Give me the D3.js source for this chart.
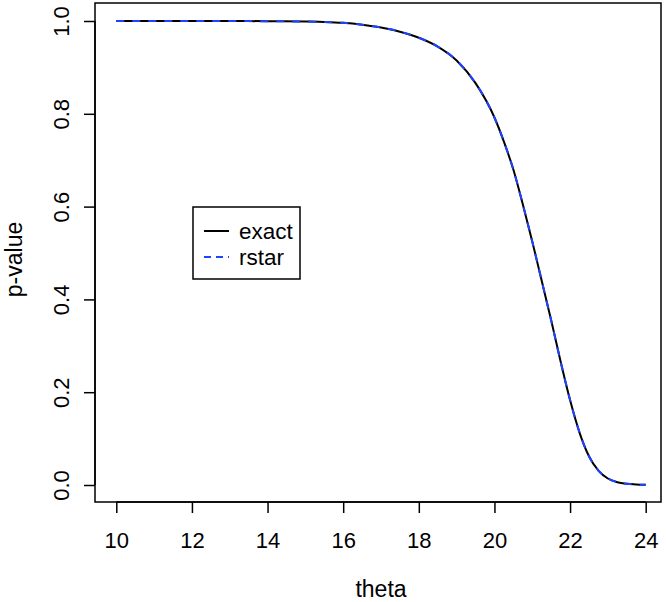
<!DOCTYPE html>
<html><head><meta charset="utf-8">
<script src="https://cdn.jsdelivr.net/npm/d3@7"></script>
<style>body{margin:0;background:#fff}svg{display:block}text{font-family:"Liberation Sans",Arial,Helvetica,sans-serif;fill:#000}</style>
</head><body>
<script>
const theta = [10,11,12,13,14,15,15.5,16,16.5,17,17.5,18,18.5,19,19.5,20,20.25,20.5,20.75,21,21.25,21.5,21.75,22,22.25,22.5,22.75,23,23.25,23.5,23.75,24];
const exact = [1.000,1.000,1.000,0.9999,0.9996,0.9988,0.998,0.996,0.992,0.986,0.977,0.964,0.945,0.915,0.866,0.792,0.740,0.680,0.605,0.525,0.440,0.355,0.266,0.183,0.113,0.062,0.031,0.014,0.006,0.0025,0.001,0.0005];
const rstar = [1.000,1.000,1.000,0.9999,0.9996,0.9988,0.998,0.996,0.992,0.986,0.977,0.964,0.945,0.915,0.866,0.792,0.740,0.680,0.605,0.525,0.440,0.355,0.266,0.183,0.113,0.062,0.031,0.014,0.006,0.0025,0.001,0.0005];
const xTicks = [10,12,14,16,18,20,22,24];
const yTicks = [0,0.2,0.4,0.6,0.8,1.0];
const seriesNames = ["exact","rstar"];

const W=666,H=602;
const box={l:95,r:661,t:3,b:502};
const x=d3.scaleLinear().domain([10,24]).range([116.3,645.7]);
const y=d3.scaleLinear().domain([0,1]).range([485,21]);
const svg=d3.select("body").append("svg").attr("width",W).attr("height",H);

const line=d3.line().x((d,i)=>x(theta[i])).y(d=>y(d)).curve(d3.curveMonotoneX);
svg.append("path").attr("d",line(exact)).attr("fill","none").attr("stroke","#000").attr("stroke-width",2);
svg.append("path").attr("d",line(rstar)).attr("fill","none").attr("stroke","#1f44ff").attr("stroke-width",2).attr("stroke-dasharray","8,8");

svg.append("rect").attr("x",box.l).attr("y",box.t).attr("width",box.r-box.l).attr("height",box.b-box.t)
  .attr("fill","none").attr("stroke","#000").attr("stroke-width",1.5);

const FONT="Liberation Sans, Arial, sans-serif";
const xa=svg.append("g").attr("transform",`translate(0,${box.b})`)
  .call(d3.axisBottom(x).tickValues(xTicks).tickSize(11).tickFormat(d3.format("d")));
xa.select(".domain").attr("d",`M${x(10)},0H${x(24)}`).attr("stroke-width",1.5);
xa.selectAll(".tick line").attr("stroke-width",1.5);
xa.selectAll("text").attr("font-size",22).attr("font-family",FONT).attr("y",46).attr("dy",null);

const ya=svg.append("g").attr("transform",`translate(${box.l},0)`)
  .call(d3.axisLeft(y).tickValues(yTicks).tickSize(11).tickFormat(d3.format(".1f")));
ya.select(".domain").attr("d",`M0,${y(0)}V${y(1)}`).attr("stroke-width",1.5);
ya.selectAll(".tick line").attr("stroke-width",1.5);
ya.selectAll(".tick text").attr("x",null).attr("dy",null).attr("text-anchor","middle")
  .attr("font-size",22).attr("font-family",FONT)
  .attr("transform","translate(-26,0) rotate(-90)");

svg.append("text").attr("x",(box.l+box.r)/2+3).attr("y",597).attr("text-anchor","middle").attr("font-size",23).text("theta");
svg.append("text").attr("transform",`translate(22,${(box.t+box.b)/2+7}) rotate(-90)`).attr("text-anchor","middle").attr("font-size",23).text("p-value");

const lg=svg.append("g");
lg.append("rect").attr("x",193).attr("y",207).attr("width",107).attr("height",72).attr("fill","#fff").attr("stroke","#000").attr("stroke-width",1.5);
const ly=[231,257];
const lstyle=[{c:"#000",d:null},{c:"#1f44ff",d:"8,8"}];
seriesNames.forEach((n,i)=>{
  lg.append("line").attr("x1",204).attr("x2",229).attr("y1",ly[i]).attr("y2",ly[i]).attr("stroke",lstyle[i].c).attr("stroke-width",2).attr("stroke-dasharray",lstyle[i].d? "7,5":null);
  lg.append("text").attr("x",239).attr("y",ly[i]).attr("dy","0.35em").attr("font-size",22.5).text(n);
});
</script>
</body></html>
